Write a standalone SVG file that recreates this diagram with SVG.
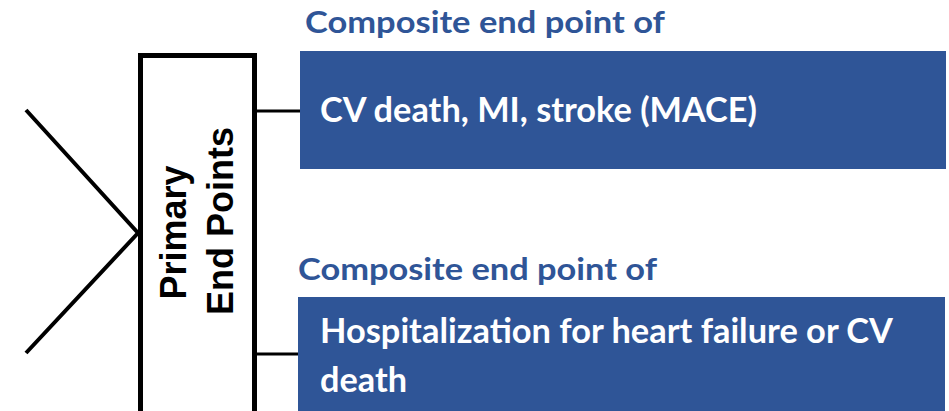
<svg xmlns="http://www.w3.org/2000/svg" width="949" height="411" viewBox="0 0 949 411">
  <style>
    .line { stroke: #000; fill: none; }
    .frame { fill: #fff; stroke: #000; stroke-width: 5; }
    .panel { fill: #2F5597; }
    .head { font-family: Lato, "Open Sans", sans-serif; font-weight: 700; font-size: 31px; fill: #2F5597; }
    .body { font-family: Lato, "Open Sans", sans-serif; font-weight: 700; font-size: 34px; fill: #fff; }
    .vert { font-family: "Liberation Sans", Arial, sans-serif; font-weight: 700; font-size: 36px; fill: #000; text-anchor: middle; }
  </style>

  <!-- connectors -->
  <g id="connectors">
    <polyline class="line" stroke-width="4" points="26,110 138,233 26,353"/>
    <line class="line" stroke-width="3" x1="257" y1="111" x2="300" y2="111"/>
    <line class="line" stroke-width="3" x1="257" y1="354" x2="298" y2="354"/>
  </g>

  <!-- vertical label box -->
  <g id="primary-end-points">
    <rect class="frame" x="140.5" y="55.5" width="114" height="370"/>
    <text class="vert" transform="translate(186,232.5) rotate(-90)">Primary</text>
    <text class="vert" transform="translate(233,221) rotate(-90)">End Points</text>
  </g>

  <!-- MACE endpoint -->
  <g id="mace">
    <text class="head" x="305" y="33" textLength="360" lengthAdjust="spacingAndGlyphs">Composite end point of</text>
    <rect class="panel" x="300" y="51" width="646" height="118"/>
    <text class="body" x="320" y="122" textLength="437" lengthAdjust="spacingAndGlyphs">CV death, MI, stroke (MACE)</text>
  </g>

  <!-- heart failure endpoint -->
  <g id="heart-failure">
    <text class="head" x="298" y="280" textLength="359" lengthAdjust="spacingAndGlyphs">Composite end point of</text>
    <rect class="panel" x="298" y="297" width="647" height="114"/>
    <text class="body" x="320" y="343" textLength="573" lengthAdjust="spacingAndGlyphs">Hospitalization for heart failure or CV</text>
    <text class="body" x="320" y="392" textLength="87" lengthAdjust="spacingAndGlyphs">death</text>
  </g>
</svg>
